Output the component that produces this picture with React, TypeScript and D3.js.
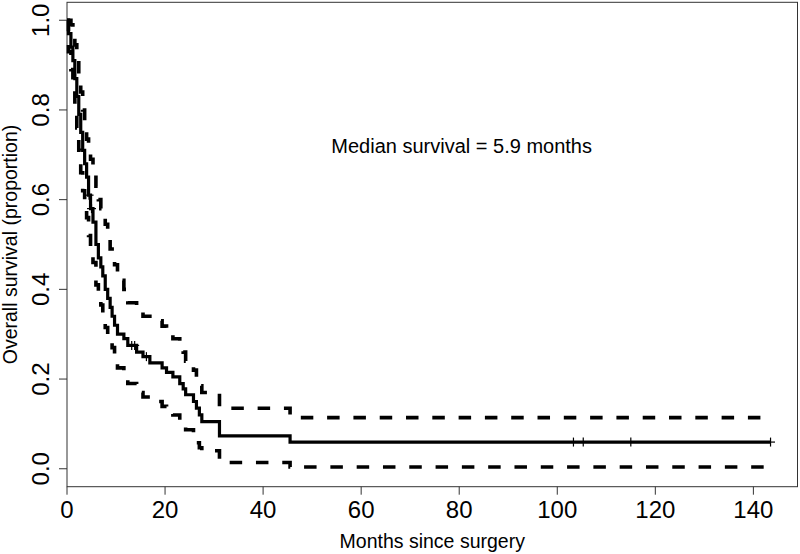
import React from "react";
import * as d3 from "d3";

// Kaplan–Meier step data (months, proportion surviving)
const eventTimes = [0, 0.3, 0.8, 1.2, 1.6, 2.0, 2.4, 2.8, 3.2, 3.6, 4.0, 4.4, 4.8, 5.3, 5.9, 6.4, 6.9, 7.3, 7.8, 8.3, 8.8, 9.2, 9.7, 10.3, 11.6, 12.4, 14.2, 15.5, 16.9, 19.4, 20.3, 21.6, 23.0, 23.7, 24.2, 25.8, 26.4, 27.0, 27.5, 31.1, 45.5];
const survival = [1, 0.97, 0.94, 0.91, 0.87, 0.83, 0.79, 0.75, 0.71, 0.68, 0.65, 0.61, 0.58, 0.55, 0.5, 0.47, 0.45, 0.43, 0.4, 0.38, 0.36, 0.34, 0.32, 0.3, 0.29, 0.275, 0.26, 0.25, 0.236, 0.225, 0.215, 0.205, 0.19, 0.178, 0.165, 0.15, 0.135, 0.12, 0.105, 0.0735, 0.0595];
const upperCI = [1, 1, 0.99, 0.97, 0.945, 0.91, 0.88, 0.84, 0.8, 0.77, 0.735, 0.71, 0.69, 0.665, 0.63, 0.6, 0.58, 0.565, 0.545, 0.52, 0.49, 0.47, 0.455, 0.42, 0.4, 0.37, 0.35, 0.34, 0.33, 0.318, 0.31, 0.29, 0.275, 0.26, 0.24, 0.22, 0.2, 0.185, 0.17, 0.135, 0.114];
const lowerCI = [1, 0.93, 0.89, 0.85, 0.8, 0.76, 0.71, 0.66, 0.62, 0.59, 0.56, 0.52, 0.49, 0.46, 0.41, 0.38, 0.365, 0.345, 0.315, 0.3, 0.285, 0.27, 0.25, 0.225, 0.21, 0.19, 0.17, 0.16, 0.15, 0.139, 0.13, 0.12, 0.105, 0.095, 0.087, 0.07, 0.058, 0.047, 0.04, 0.014, 0.004];
const lastTime = 143.5;
const censorTimes = [4.5, 5.0, 13.2, 13.8, 16.2, 103.3, 105.3, 115, 143.5];

const xTicks = [0, 20, 40, 60, 80, 100, 120, 140];
const yTicks = [0, 0.2, 0.4, 0.6, 0.8, 1.0];
const xTitle = "Months since surgery";
const yTitle = "Overall survival (proportion)";
const annotation = "Median survival = 5.9 months";

const W = 800;
const H = 554;
const left = 67;
const right = 797.5;
const top = 2.3;
const bottom = 486.7;
const FONT = "'Liberation Sans', Arial, Helvetica, sans-serif";

export default function App() {
  const x = d3.scaleLinear().domain([0, 149]).range([left, right]);
  const y = d3.scaleLinear().domain([-0.04, 1.04]).range([bottom, top]);

  const mk = (vals: number[]) => {
    const pts: [number, number][] = eventTimes.map((t, i) => [t, vals[i]]);
    pts.push([lastTime, vals[vals.length - 1]]);
    return d3
      .line<[number, number]>()
      .x((d) => x(d[0]))
      .y((d) => y(d[1]))
      .curve(d3.curveStepAfter)(pts) as string;
  };

  const survAt = (t: number) => {
    let s = survival[0];
    for (let i = 0; i < eventTimes.length; i++) {
      if (eventTimes[i] <= t) s = survival[i];
    }
    return s;
  };

  const fmt = d3.format(".1f");

  return (
    <svg
      width={W}
      height={H}
      style={{ position: "absolute", left: 0, top: 0, background: "#fff" }}
      fontFamily={FONT}
    >
      <rect x={0} y={0} width={W} height={H} fill="#fff" />
      {/* plot box */}
      <rect
        x={left}
        y={top}
        width={right - left}
        height={bottom - top}
        fill="none"
        stroke="#333"
        strokeWidth={1}
      />
      {/* x axis */}
      {xTicks.map((t) => (
        <g key={"x" + t}>
          <line x1={x(t)} x2={x(t)} y1={bottom} y2={bottom + 8} stroke="#333" strokeWidth={1} />
          <text x={x(t)} y={bottom + 31} textAnchor="middle" fontSize={24} fill="#000">
            {t}
          </text>
        </g>
      ))}
      {/* y axis */}
      {yTicks.map((t) => (
        <g key={"y" + t}>
          <line x1={left - 8} x2={left} y1={y(t)} y2={y(t)} stroke="#333" strokeWidth={1} />
          <text
            transform={`translate(${49},${y(t)}) rotate(-90)`}
            textAnchor="middle"
            fontSize={24}
            fill="#000"
          >
            {fmt(t)}
          </text>
        </g>
      ))}
      <text x={(left + right) / 2} y={548} textAnchor="middle" fontSize={19.5} fill="#000">
        {xTitle}
      </text>
      <text
        transform={`translate(${17},${(top + bottom) / 2}) rotate(-90)`}
        textAnchor="middle"
        fontSize={19.5}
        fill="#000"
      >
        {yTitle}
      </text>
      <text x={x(80.5)} y={y(0.72) + 7} textAnchor="middle" fontSize={20} fill="#000">
        {annotation}
      </text>

      {/* confidence limits */}
      <path d={mk(upperCI)} fill="none" stroke="#000" strokeWidth={3.6} strokeDasharray="12.5 13.8" />
      <path d={mk(lowerCI)} fill="none" stroke="#000" strokeWidth={3.6} strokeDasharray="12.5 13.8" />
      {/* survival curve */}
      <path d={mk(survival)} fill="none" stroke="#000" strokeWidth={3.2} />
      {/* censor marks */}
      {censorTimes.map((t, i) => {
        const cx = x(t);
        const cy = y(survAt(t));
        return (
          <g key={"c" + i} stroke="#000" strokeWidth={1.2}>
            <line x1={cx} x2={cx} y1={cy - 4.5} y2={cy + 4.5} />
            <line x1={cx - 4.5} x2={cx + 4.5} y1={cy} y2={cy} />
          </g>
        );
      })}
    </svg>
  );
}
